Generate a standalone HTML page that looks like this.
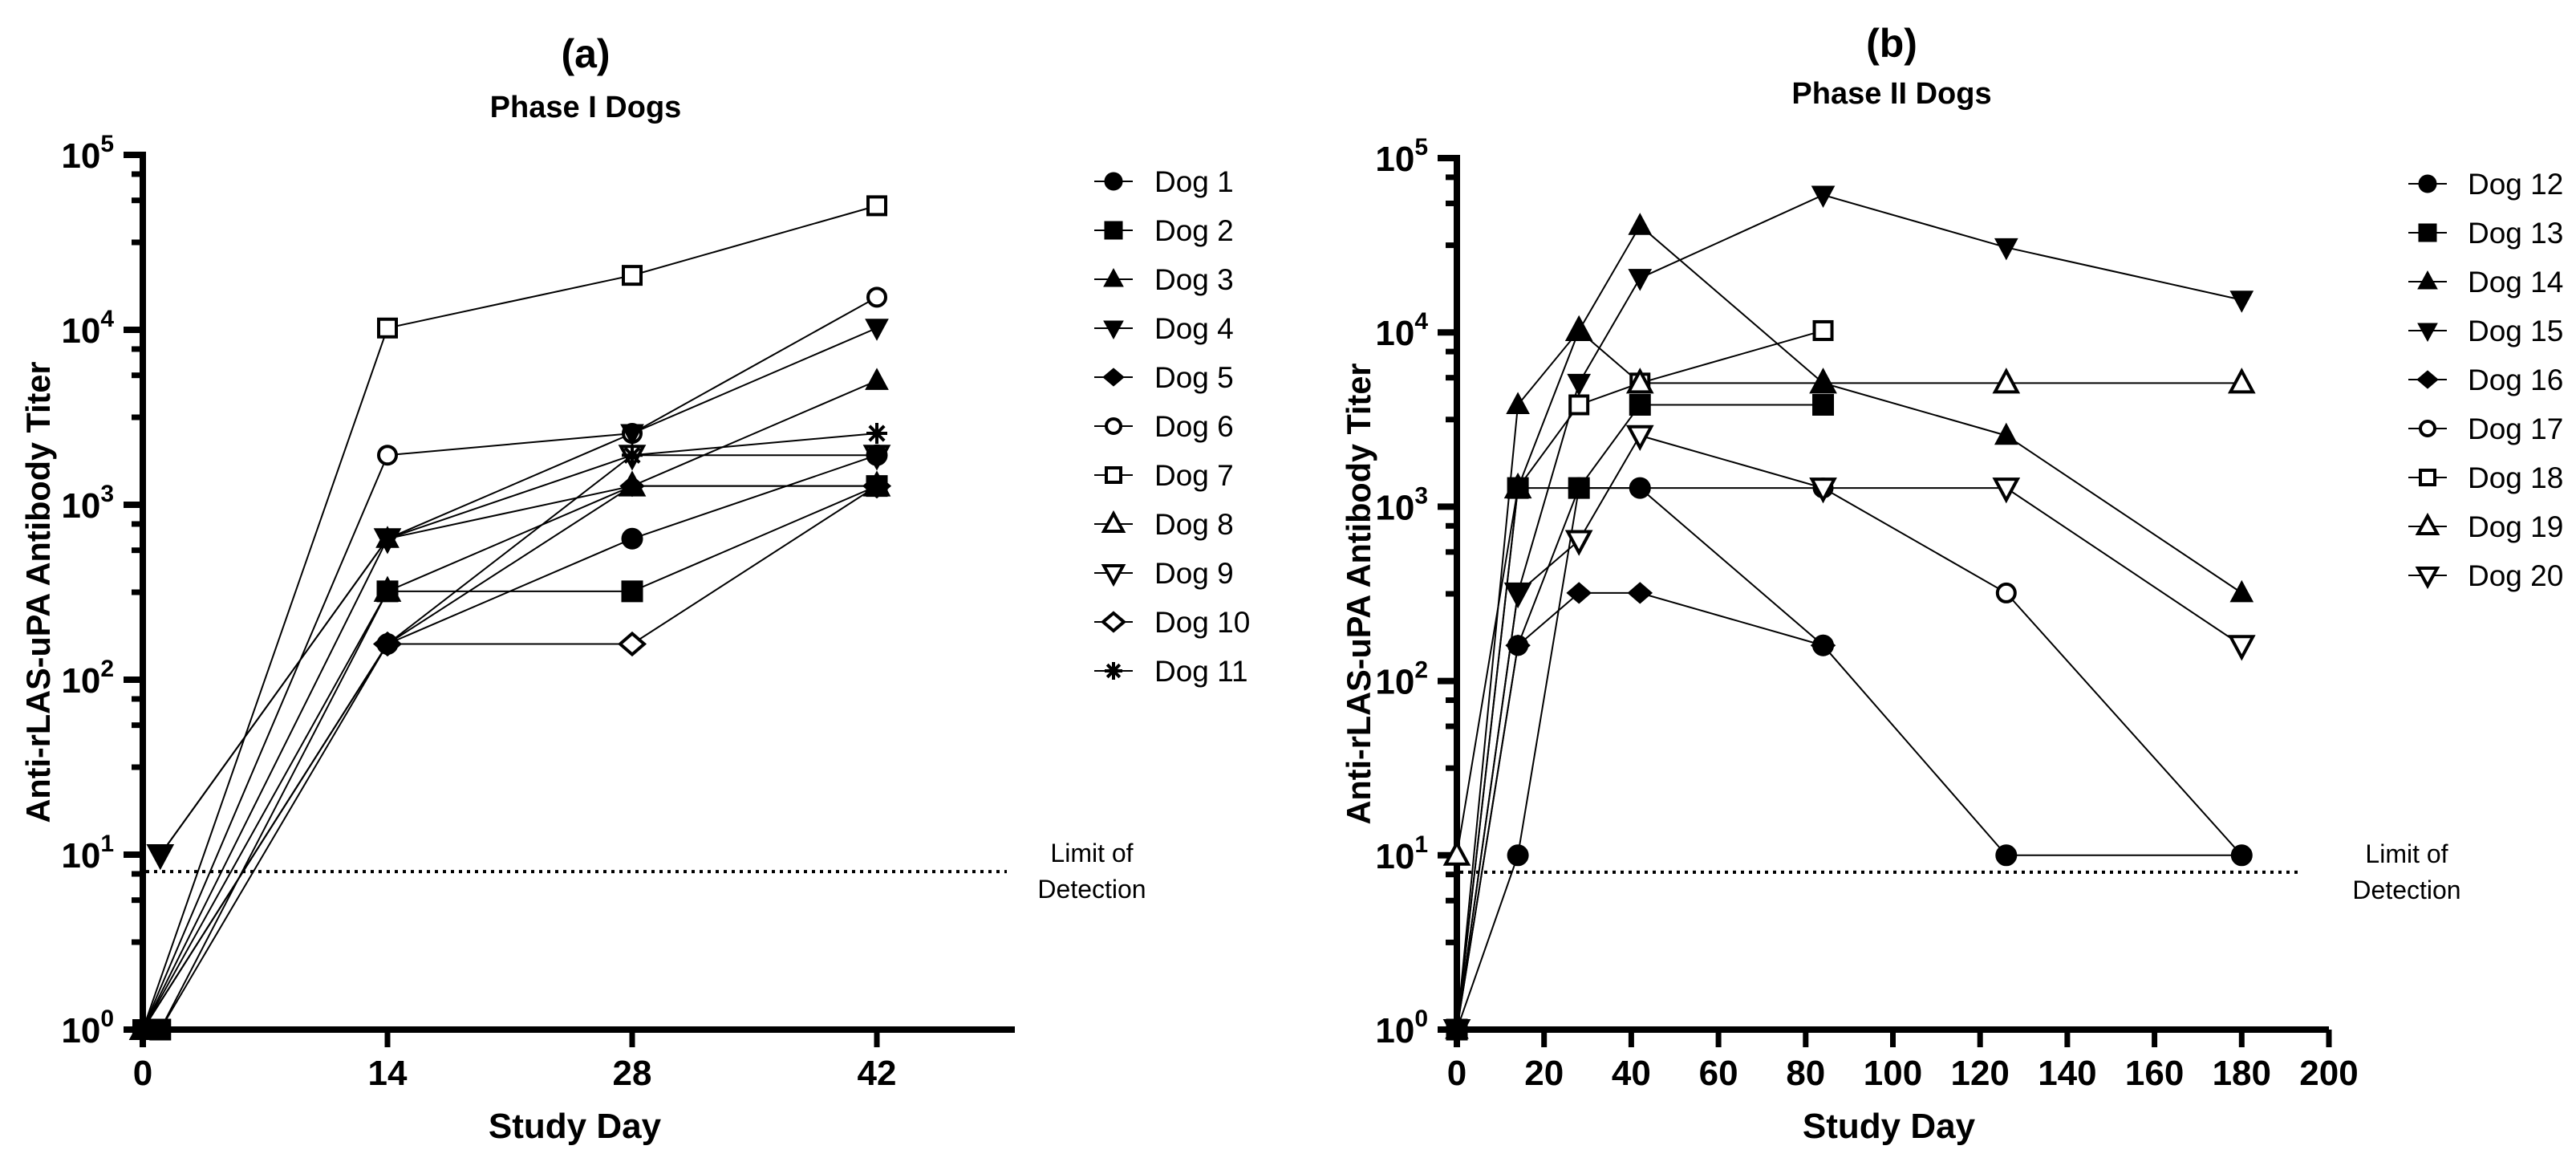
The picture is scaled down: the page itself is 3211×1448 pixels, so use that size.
<!DOCTYPE html>
<html><head><meta charset="utf-8"><style>
html,body{margin:0;padding:0;background:#fff;}
svg{display:block;font-family:"Liberation Sans",Arial,sans-serif;}
</style></head><body>
<svg id="chart" width="3211" height="1448" viewBox="0 0 3211 1448" xmlns="http://www.w3.org/2000/svg">
<rect width="3211" height="1448" fill="#fff"/>
<g id="panelA"></g>
<g id="panelB"></g>
</svg>
<script>
// ---- Panel A data (Phase I dogs) ----
const namesA = ["Dog 1","Dog 2","Dog 3","Dog 4","Dog 5","Dog 6","Dog 7","Dog 8","Dog 9","Dog 10","Dog 11"];
const markersA = ["circle-f","square-f","tri-f","dtri-f","diamond-f","circle-o","square-o","tri-o","dtri-o","diamond-o","star"];
const startDayA = [1,1,0,1,0,0,0,0,1,0,0];
const laterDaysA = [14,28,42];
const dog1 = [1,160,640,1920];
const dog2 = [1,320,320,1280];
const dog3 = [1,640,1280,5120];
const dog4 = [10,640,2560,10240];
const dog5 = [1,160,1280,1280];
const dog6 = [1,1920,2560,15360];
const dog7 = [1,10240,20480,51200];
const dog8 = [1,320,1280,1280];
const dog9 = [10,640,1920,1920];
const dog10 = [1,160,160,1280];
const dog11 = [1,160,1920,2560];
const valuesA = [dog1,dog2,dog3,dog4,dog5,dog6,dog7,dog8,dog9,dog10,dog11];
const xTicksA = [0,14,28,42];

// ---- Panel B data (Phase II dogs) ----
const namesB = ["Dog 12","Dog 13","Dog 14","Dog 15","Dog 16","Dog 17","Dog 18","Dog 19","Dog 20"];
const markersB = ["circle-f","square-f","tri-f","dtri-f","diamond-f","circle-o","square-o","tri-o","dtri-o"];
const daysB = [0,14,28,42,84,126,180];
const dog12 = [1,10,1280,1280,160,10,10];
const dog13 = [1,1280,1280,3840,3840];
const dog14 = [1,3840,10240,40960,5120,2560,320];
const dog15 = [1,320,5120,20480,61440,30720,15360];
const dog16 = [1,160,320,320,160];
const dog17 = [1,160,1280,1280,1280,320,10];
const dog18 = [1,1280,3840,5120,10240];
const dog19 = [10,1280,10240,5120,5120,5120,5120];
const dog20 = [1,320,640,2560,1280,1280,160];
const valuesB = [dog12,dog13,dog14,dog15,dog16,dog17,dog18,dog19,dog20];
const xTicksB = [0,20,40,60,80,100,120,140,160,180,200];
const yDecades = [0,1,2,3,4,5];
const lodValue = 8;

const NS = "http://www.w3.org/2000/svg";
function el(tag, attrs, parent){
  const e = document.createElementNS(NS, tag);
  for (const k in attrs) e.setAttribute(k, attrs[k]);
  parent.appendChild(e);
  return e;
}

function marker(g, type, cx, cy, s){
  const filled = type.endsWith("-f") || type === "star";
  const fill = filled ? "#000" : "#fff";
  const sw = filled ? 1 : 4;
  const r = s/2;
  let m;
  if (type.startsWith("circle")) m = el("circle",{cx:cx,cy:cy,r:filled?r:r-2,fill:fill,stroke:"#000","stroke-width":sw},g);
  else if (type.startsWith("square")) m = el("rect",{x:cx-r+(filled?0:2),y:cy-r+(filled?0:2),width:filled?s:s-4,height:filled?s:s-4,fill:fill,stroke:"#000","stroke-width":sw},g);
  else if (type.startsWith("tri")) m = el("polygon",{points:`${cx},${cy-r-2} ${cx+r+1},${cy+r-2} ${cx-r-1},${cy+r-2}`,fill:fill,stroke:"#000","stroke-width":sw},g);
  else if (type.startsWith("dtri")) m = el("polygon",{points:`${cx},${cy+r+2} ${cx+r+1},${cy-r+2} ${cx-r-1},${cy-r+2}`,fill:fill,stroke:"#000","stroke-width":sw},g);
  else if (type.startsWith("diamond")) m = el("polygon",{points:`${cx},${cy-r} ${cx+r+2},${cy} ${cx},${cy+r} ${cx-r-2},${cy}`,fill:fill,stroke:"#000","stroke-width":sw},g);
  else {
    m = el("g",{},g);
    for (let a=0;a<4;a++){
      const ang = a*Math.PI/4;
      el("line",{x1:cx-r*Math.cos(ang),y1:cy-r*Math.sin(ang),x2:cx+r*Math.cos(ang),y2:cy+r*Math.sin(ang),stroke:"#000","stroke-width":4},m);
    }
  }
  return m;
}

function drawPanel(cfg){
  const g = document.getElementById(cfg.id);
  const xs = d => cfg.x0 + d * cfg.pxPerDay;
  const ys = v => cfg.yBottom - Math.log10(v) * cfg.pxPerDecade;

  const t1 = el("text",{x:cfg.titleX,y:cfg.letterY,"text-anchor":"middle","font-size":50,"font-weight":"bold"},g);
  t1.textContent = cfg.letter;
  
  
  const t2 = el("text",{x:cfg.titleX,y:cfg.subY,"text-anchor":"middle","font-size":38,"font-weight":"bold"},g);
  t2.textContent = cfg.title;
  
  

  const yt = el("text",{x:0,y:0,"text-anchor":"middle","font-size":42,"font-weight":"bold",transform:`translate(${cfg.yTitleX},${(cfg.yBottom+ys(1e5))/2}) rotate(-90)`,textLength:575,lengthAdjust:"spacingAndGlyphs"},g);
  yt.textContent = "Anti-rLAS-uPA Antibody Titer";
  
  

  const xt = el("text",{x:(cfg.x0+cfg.xEnd)/2 - 5,y:1418,"text-anchor":"middle","font-size":44,"font-weight":"bold"},g);
  xt.textContent = "Study Day";
  
  

  const ax = el("g",{},g);
  
  
  el("line",{x1:cfg.x0,y1:ys(1e5)-4,x2:cfg.x0,y2:cfg.yBottom+22,stroke:"#000","stroke-width":8},ax);
  el("line",{x1:cfg.x0-22,y1:cfg.yBottom,x2:cfg.xEnd,y2:cfg.yBottom,stroke:"#000","stroke-width":8},ax);
  yDecades.forEach(d=>{
    const y = ys(Math.pow(10,d));
    el("line",{x1:cfg.x0-24,y1:y,x2:cfg.x0,y2:y,stroke:"#000","stroke-width":8},ax);
    const lab = el("text",{x:cfg.x0-36,y:y+16,"text-anchor":"end","font-size":44,"font-weight":"bold"},ax);
    
    
    const a = el("tspan",{},lab); a.textContent="10";
    const b = el("tspan",{dy:-20,"font-size":30},lab); b.textContent=String(d);
    if (d < 5){
      [0.5,0.74,0.89].forEach(f=>{
        const ym = ys(Math.pow(10,d+f));
        el("line",{x1:cfg.x0-14,y1:ym,x2:cfg.x0,y2:ym,stroke:"#000","stroke-width":7},ax);
      });
    }
  });
  cfg.xTicks.forEach(d=>{
    const x = xs(d);
    if (d>0) el("line",{x1:x,y1:cfg.yBottom,x2:x,y2:cfg.yBottom+22,stroke:"#000","stroke-width":7},ax);
    const lab = el("text",{x:x,y:1352,"text-anchor":"middle","font-size":44,"font-weight":"bold"},ax);
    lab.textContent = String(d);
    
    
  });

  const lod = el("line",{x1:cfg.x0+4,y1:ys(lodValue),x2:cfg.lodEnd,y2:ys(lodValue),stroke:"#000","stroke-width":4,"stroke-dasharray":"4 6"},g);
  
  
  const l1 = el("text",{x:cfg.lodTextX,y:ys(lodValue)-12,"text-anchor":"middle","font-size":32},g);
  l1.textContent = "Limit of";
  
  
  const l2 = el("text",{x:cfg.lodTextX,y:ys(lodValue)+33,"text-anchor":"middle","font-size":32},g);
  l2.textContent = "Detection";
  
  

  // series lines first
  const lineLayer = el("g",{},g);
  
  
  const openLayer = el("g",{},g);
  
  
  const filledLayer = el("g",{},g);
  
  
  cfg.values.forEach((vals,i)=>{
    const days = cfg.daysFor(i, vals.length);
    const pts = vals.map((v,j)=>`${xs(days[j])},${ys(v)}`).join(" ");
    const pl = el("polyline",{points:pts,fill:"none",stroke:"#000","stroke-width":2},lineLayer);
    
    
    const type = cfg.markers[i];
    const layer = (type.endsWith("-f") || type === "star") ? filledLayer : openLayer;
    vals.forEach((v,j)=>{
      const m = marker(layer, type, xs(days[j]), ys(v), 26);
      
      
    });
  });

  const lg = el("g",{},g);
  
  
  cfg.names.forEach((n,i)=>{
    const y = cfg.legY + i*61;
    const eg = el("g",{},lg);
    
    
    el("line",{x1:cfg.legX-24,y1:y,x2:cfg.legX+24,y2:y,stroke:"#000","stroke-width":2},eg);
    marker(eg, cfg.markers[i], cfg.legX, y, 22);
    const tx = el("text",{x:cfg.legTextX,y:y+13,"font-size":37},eg);
    tx.textContent = n;
  });
}

drawPanel({
  id:"panelA", letter:"(a)", title:"Phase I Dogs", titleX:730, letterY:84, subY:146,
  x0:178, pxPerDay:305/14, xEnd:1265, yBottom:1283, pxPerDecade:218,
  yTitleX:62, xTicks:xTicksA, lodEnd:1255, lodTextX:1361,
  values:valuesA, names:namesA, markers:markersA,
  daysFor:(i,n)=>[startDayA[i]].concat(laterDaysA).slice(0,n),
  legX:1388, legTextX:1439, legY:226
});
drawPanel({
  id:"panelB", letter:"(b)", title:"Phase II Dogs", titleX:2358, letterY:71, subY:129,
  x0:1816, pxPerDay:1087/200, xEnd:2903, yBottom:1283, pxPerDecade:217.2,
  yTitleX:1708, xTicks:xTicksB, lodEnd:2865, lodTextX:3000,
  values:valuesB, names:namesB, markers:markersB,
  daysFor:(i,n)=>daysB.slice(0,n),
  legX:3026, legTextX:3076, legY:229
});
</script>
</body></html>
